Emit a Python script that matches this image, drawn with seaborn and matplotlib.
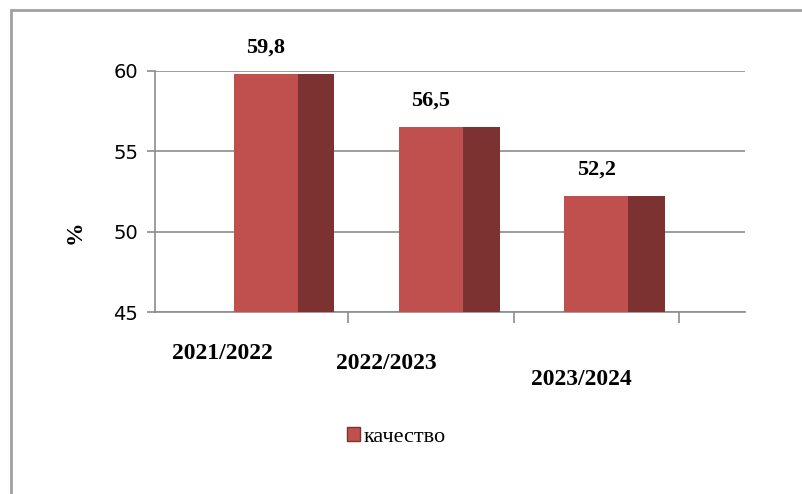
import matplotlib
matplotlib.use("Agg")
import matplotlib.pyplot as plt
import matplotlib.transforms as mtransforms
from matplotlib.patches import Rectangle, Patch
import seaborn as sns
import pandas as pd

# ---- data ----
categories = ["2021/2022", "2022/2023", "2023/2024"]
values = [59.8, 56.5, 52.2]
value_labels = ["59,8", "56,5", "52,2"]
series_name = "качество"
y_ticks = [45, 50, 55, 60]
y_label = "%"

front_color = "#C0504D"
side_color = "#7B3230"
grid_color = "#8C8C8C"

df = pd.DataFrame({"cat": categories, "val": values})

sns.set_theme(style="white")
plt.rcParams["font.family"] = ["DejaVu Sans"]
plt.rcParams["text.color"] = "black"
plt.rcParams["axes.labelcolor"] = "black"
plt.rcParams["xtick.labelcolor"] = "black"
plt.rcParams["ytick.labelcolor"] = "black"

fig = plt.figure(figsize=(8.03, 4.94), dpi=100)
ax = fig.add_axes([155 / 803, 1 - 312 / 494, 590 / 803, 241 / 494])

sns.barplot(data=df, x="cat", y="val", color=front_color, width=0.39,
            saturation=1, ax=ax, zorder=3)

ax.set_ylim(45, 60)
ax.set_xlim(-0.67, 2.9)
ax.set_yticks(y_ticks)

# side faces (pseudo 3D), derived from each bar patch
side_w = 0.22
for p in list(ax.patches):
    p.set_edgecolor("none")
    side = Rectangle((p.get_x() + p.get_width(), p.get_y()), side_w, p.get_height(),
                     facecolor=side_color, edgecolor="none", zorder=3)
    ax.add_patch(side)

# value labels
for p, lab in zip(ax.patches[:len(values)], value_labels):
    ax.annotate(lab, (p.get_x() + p.get_width() / 2, p.get_height()),
                xytext=(0, 12), textcoords="offset points", ha="center", va="bottom",
                fontsize=16, fontweight="bold", family="Liberation Serif", color="black")

# grid and spines
ax.grid(axis="y", color=grid_color, linewidth=1.2, zorder=0)
ax.set_axisbelow(True)
for s in ["top", "right"]:
    ax.spines[s].set_visible(False)
for s in ["left", "bottom"]:
    ax.spines[s].set_color(grid_color)
    ax.spines[s].set_linewidth(1.2)

ax.tick_params(axis="y", which="major", direction="out", length=6, color=grid_color,
               width=1.2, labelsize=14, pad=6, left=True, labelcolor="black")
ax.set_xticks([0.5, 1.5, 2.5], minor=True)
ax.tick_params(axis="x", which="minor", direction="out", length=8, color=grid_color,
               width=1.2, bottom=True)
ax.tick_params(axis="x", which="major", length=0, pad=22, labelcolor="black")
ax.set_xticks(range(len(categories)))
ax.set_xticklabels(categories, fontsize=17, fontweight="bold", family="Liberation Serif",
                   color="black")

# perspective-like offsets of category labels (dx, dy in pixels)
offsets = [(-43, 0), (-45, -10), (-15, -26)]
for lab, (dx, dy) in zip(ax.get_xticklabels(), offsets):
    lab.set_transform(lab.get_transform() +
                      mtransforms.ScaledTranslation(dx / 100, dy / 100, fig.dpi_scale_trans))

ax.set_xlabel("")
ax.set_ylabel(y_label, fontsize=17, fontweight="bold", family="Liberation Serif", color="black")
ax.yaxis.set_label_coords((86 - 155) / 590, (312 - 232) / 241)

# legend
handle = Patch(facecolor=front_color, edgecolor=side_color, label=series_name)
leg = fig.legend(handles=[handle], loc="center", bbox_to_anchor=(396 / 803, 1 - 437 / 494),
                 frameon=False, prop={"family": "Liberation Serif", "size": 16},
                 handlelength=0.6, handleheight=0.6, handletextpad=0.15)
for t in leg.get_texts():
    t.set_color("black")

# chart border (only top and left visible)
fig.add_artist(Rectangle((11 / 803, -0.2), 2, (1 - 10 / 494) + 0.2, transform=fig.transFigure,
                         fill=False, edgecolor="#A0A0A0", linewidth=2))

fig.savefig("out.png", dpi=100)
